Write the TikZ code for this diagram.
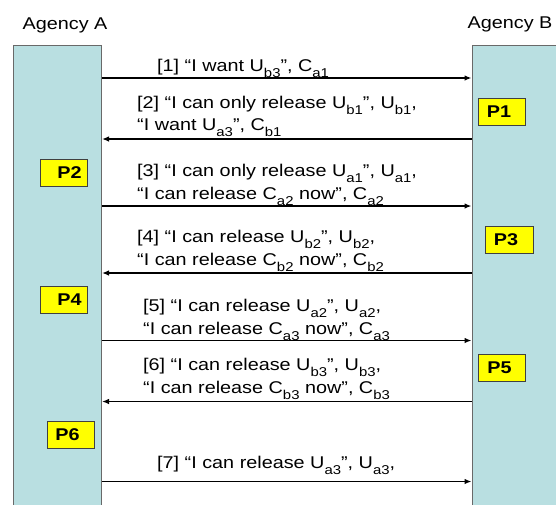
\documentclass[tikz,border=0pt]{standalone}
\usepackage{fontspec}
\setmainfont{Liberation Sans}[FakeStretch=1.165]
\usetikzlibrary{arrows.meta}

\definecolor{lanefill}{RGB}{185,223,225}
\definecolor{lanerule}{RGB}{105,105,105}
\definecolor{pfill}{RGB}{255,255,0}

% lowered, smaller index letters (U_b3, C_a1, ...)
\newcommand\lo[1]{\raisebox{-6pt}{\fontsize{12.8}{13}\selectfont #1}}

\begin{document}
\begin{tikzpicture}[x=1pt,y=-1pt,
  font=\fontsize{17}{20}\selectfont,
  lanebox/.style={draw=lanerule, line width=1pt, fill=lanefill, rectangle,
    inner sep=0pt, anchor=north west},
  msg/.style={anchor=base west, inner sep=0pt},
  head/.style={anchor=base, inner sep=0pt},
  pbox/.style={draw=black!75, line width=0.8pt, fill=pfill, rectangle,
    minimum width=47pt, minimum height=27pt, inner sep=0pt,
    font=\fontsize{17}{20}\selectfont\bfseries},
  sig/.style={line width=1.3pt, -{Latex[length=7pt,width=5.5pt]}}]

\useasboundingbox (0,0) rectangle (556,504);
\clip (0,0) rectangle (556,504);

% the two agencies
\node[head] (hA) at (65,29) {Agency A};
\node[head] (hB) at (510,28) {Agency B};
\node[lanebox, minimum width=88pt, minimum height=470pt] (laneA) at (13,45) {};
\node[lanebox, minimum width=100pt, minimum height=470pt] (laneB) at (471.5,45) {};

% heights of the message arrows
\coordinate (y1) at (0,78);
\coordinate (y2) at (0,139);
\coordinate (y3) at (0,206);
\coordinate (y4) at (0,273);
\coordinate (y5) at (0,340.5);
\coordinate (y6) at (0,401.5);
\coordinate (y7) at (0,481.5);

\draw[sig] (laneA.east |- y1) -- (laneB.west |- y1);
\draw[sig] (laneB.west |- y2) -- (laneA.east |- y2);
\draw[sig] (laneA.east |- y3) -- (laneB.west |- y3);
\draw[sig] (laneB.west |- y4) -- (laneA.east |- y4);
\draw[sig] (laneA.east |- y5) -- (laneB.west |- y5);
\draw[sig] (laneB.west |- y6) -- (laneA.east |- y6);
\draw[sig] (laneA.east |- y7) -- (laneB.west |- y7);

% message texts
\node[msg] (m1)  at (157,71)  {[1] “I want U\lo{b3}”, C\lo{a1}};
\node[msg] (m2a) at (137,108) {[2] “I can only release U\lo{b1}”, U\lo{b1},};
\node[msg] (m2b) at (137,130) {“I want U\lo{a3}”, C\lo{b1}};
\node[msg] (m3a) at (137,176) {[3] “I can only release U\lo{a1}”, U\lo{a1},};
\node[msg] (m3b) at (137,199) {“I can release C\lo{a2} now”, C\lo{a2}};
\node[msg] (m4a) at (137,242) {[4] “I can release U\lo{b2}”, U\lo{b2},};
\node[msg] (m4b) at (137,265) {“I can release C\lo{b2} now”, C\lo{b2}};
\node[msg] (m5a) at (143,311) {[5] “I can release U\lo{a2}”, U\lo{a2},};
\node[msg] (m5b) at (143,334) {“I can release C\lo{a3} now”, C\lo{a3}};
\node[msg] (m6a) at (143,370) {[6] “I can release U\lo{b3}”, U\lo{b3},};
\node[msg] (m6b) at (143,393) {“I can release C\lo{b3} now”, C\lo{b3}};
\node[msg] (m7)  at (157,468) {[7] “I can release U\lo{a3}”, U\lo{a3},};

% protocol steps
\node[pbox] (p1) at (502,111.5)  {P1\hspace*{6pt}};
\node[pbox] (p2) at (63.5,172.5) {\hspace*{12pt}P2};
\node[pbox, minimum width=48pt] (p3) at (509,240) {P3\hspace*{6pt}};
\node[pbox] (p4) at (63.5,300)   {\hspace*{12pt}P4};
\node[pbox] (p5) at (501.5,367.5) {P5\hspace*{4pt}};
\node[pbox] (p6) at (70.5,434.5) {P6\hspace*{6pt}};
\end{tikzpicture}
\end{document}
